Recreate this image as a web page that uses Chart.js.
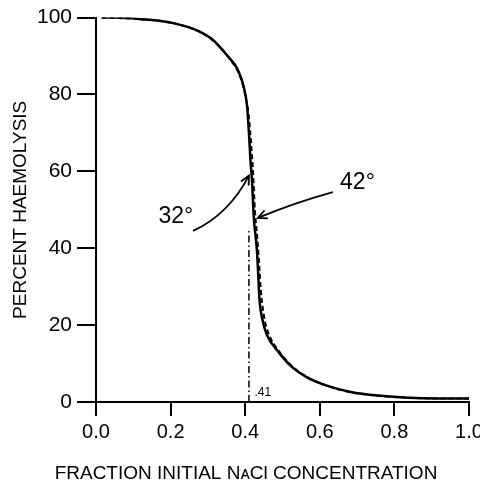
<!DOCTYPE html>
<html>
<head>
<meta charset="utf-8">
<script src="https://cdn.jsdelivr.net/npm/chart.js@4"></script>
<style>
  body { margin: 0; background: #fff; }
  canvas { display: block; }
</style>
</head>
<body>
<canvas id="grafico" width="480" height="487"></canvas>
<script>
// curva a 32 grados (linea continua)
const fraccion32 = [0.015, 0.05, 0.12, 0.21, 0.275, 0.31, 0.353, 0.38, 0.396, 0.405, 0.41, 0.414, 0.418, 0.423, 0.431, 0.435, 0.438, 0.446, 0.458, 0.487, 0.522, 0.568, 0.621, 0.683, 0.763, 0.835, 0.92, 1.0];
const hemolisis32 = [100, 100, 99.6, 98.5, 96.5, 94.5, 90, 86.5, 82, 77, 70, 63, 58, 48, 40, 33, 27, 21.5, 17.5, 13.3, 9.4, 6.3, 4.2, 2.6, 1.6, 1.1, 0.9, 0.9];

// curva a 42 grados (linea discontinua)
const fraccion42 = [0.015, 0.12, 0.21, 0.28, 0.32, 0.36, 0.385, 0.4, 0.41, 0.416, 0.421, 0.426, 0.433, 0.438, 0.442, 0.45, 0.462, 0.49, 0.525, 0.57, 0.62, 0.68, 0.76, 0.84, 0.92, 1.0];
const hemolisis42 = [100, 99.6, 98.5, 96.2, 93.5, 89, 85, 80, 74, 67, 60, 50, 42, 35, 29, 22.5, 18, 13.3, 9.4, 6.3, 4.2, 2.6, 1.6, 1.1, 0.9, 0.9];

// linea vertical en .41
const fraccionMarca = [0.41, 0.41];
const hemolisisMarca = [0, 45];

const ticksX = [0, 0.2, 0.4, 0.6, 0.8, 1.0];
const ticksY = [0, 20, 40, 60, 80, 100];

const puntos = (xs, ys) => xs.map((x, i) => ({ x: x, y: ys[i] }));

// textos y flechas (en unidades de los ejes)
const textos = [
    { texto: '32°', x: 0.214, y: 48.2, size: 23 },
    { texto: '42°', x: 0.701, y: 57, size: 23 },
    { texto: '.41', x: 0.447, y: 2.3, size: 12 }
];
const flechas = [
    { desde: [0.260, 44.5], ctrl: [0.356, 48.8], hasta: [0.410, 58.9] },
    { desde: [0.635, 54.6], ctrl: [0.531, 51.8], hasta: [0.434, 47.9] }
];

const fuente = '"Liberation Sans", Arial, sans-serif';

const anotaciones = {
    id: 'anotaciones',
    afterDatasetsDraw(chart) {
        const ctx = chart.ctx;
        const sx = chart.scales.x;
        const sy = chart.scales.y;
        ctx.save();
        ctx.fillStyle = '#000';
        ctx.strokeStyle = '#000';
        ctx.textAlign = 'center';
        ctx.textBaseline = 'middle';
        textos.forEach(t => {
            ctx.font = t.size + 'px ' + fuente;
            ctx.fillText(t.texto, sx.getPixelForValue(t.x), sy.getPixelForValue(t.y));
        });
        ctx.lineWidth = 1.8;
        flechas.forEach(f => {
            const x0 = sx.getPixelForValue(f.desde[0]), y0 = sy.getPixelForValue(f.desde[1]);
            const cx = sx.getPixelForValue(f.ctrl[0]), cy = sy.getPixelForValue(f.ctrl[1]);
            const x1 = sx.getPixelForValue(f.hasta[0]), y1 = sy.getPixelForValue(f.hasta[1]);
            ctx.beginPath();
            ctx.moveTo(x0, y0);
            ctx.quadraticCurveTo(cx, cy, x1, y1);
            ctx.stroke();
            const ang = Math.atan2(y1 - cy, x1 - cx);
            ctx.beginPath();
            ctx.moveTo(x1 - 10 * Math.cos(ang - 0.45), y1 - 10 * Math.sin(ang - 0.45));
            ctx.lineTo(x1, y1);
            ctx.lineTo(x1 - 10 * Math.cos(ang + 0.45), y1 - 10 * Math.sin(ang + 0.45));
            ctx.stroke();
        });
        ctx.restore();
    }
};

const config = {
    type: 'line',
    data: {
        datasets: [{
            data: puntos(fraccion32, hemolisis32),
            borderColor: '#000',
            borderWidth: 2.5,
            pointRadius: 0,
            cubicInterpolationMode: 'monotone',
            fill: false
        }, {
            data: puntos(fraccion42, hemolisis42),
            borderColor: '#000',
            borderWidth: 2,
            borderDash: [5, 3],
            pointRadius: 0,
            cubicInterpolationMode: 'monotone',
            fill: false
        }, {
            data: puntos(fraccionMarca, hemolisisMarca),
            borderColor: '#000',
            borderWidth: 1.5,
            borderDash: [7, 3, 1.5, 3],
            pointRadius: 0,
            fill: false
        }]
    },
    options: {
        responsive: false,
        animation: false,
        devicePixelRatio: 1,
        layout: { padding: { left: 12, right: 0, top: 17, bottom: 0 } },
        plugins: {
            legend: { display: false },
            tooltip: { enabled: false },
            title: {
                display: true,
                position: 'bottom',
                text: 'FRACTION INITIAL NᴀCl CONCENTRATION',
                color: '#000',
                font: { family: fuente, size: 19, weight: 'normal' },
                padding: { top: 0, bottom: 2 }
            }
        },
        scales: {
            x: {
                type: 'linear',
                min: 0,
                max: 1,
                afterBuildTicks: scale => { scale.ticks = ticksX.map(v => ({ value: v })); },
                afterFit: scale => { scale.height = 60.2; scale.paddingRight = 11; },
                ticks: {
                    color: '#000',
                    font: { family: fuente, size: 20 },
                    padding: 4,
                    maxRotation: 0,
                    callback: v => v.toFixed(1)
                },
                grid: { drawOnChartArea: false, drawTicks: true, tickLength: 14, color: '#000', lineWidth: 2 },
                border: { display: true, color: '#000', width: 2 }
            },
            y: {
                min: 0,
                max: 100,
                afterBuildTicks: scale => { scale.ticks = ticksY.map(v => ({ value: v })); },
                afterFit: scale => { scale.width = 84; },
                ticks: {
                    color: '#000',
                    font: { family: fuente, size: 21 },
                    padding: 5
                },
                grid: { drawOnChartArea: false, drawTicks: true, tickLength: 19, color: '#000', lineWidth: 2 },
                border: { display: true, color: '#000', width: 2 },
                title: {
                    display: true,
                    text: 'PERCENT HAEMOLYSIS',
                    color: '#000',
                    font: { family: fuente, size: 19 },
                    padding: { top: -3, bottom: 0 }
                }
            }
        }
    },
    plugins: [anotaciones]
};

const myChart = new Chart(document.getElementById('grafico').getContext('2d'), config);
</script>
</body>
</html>
